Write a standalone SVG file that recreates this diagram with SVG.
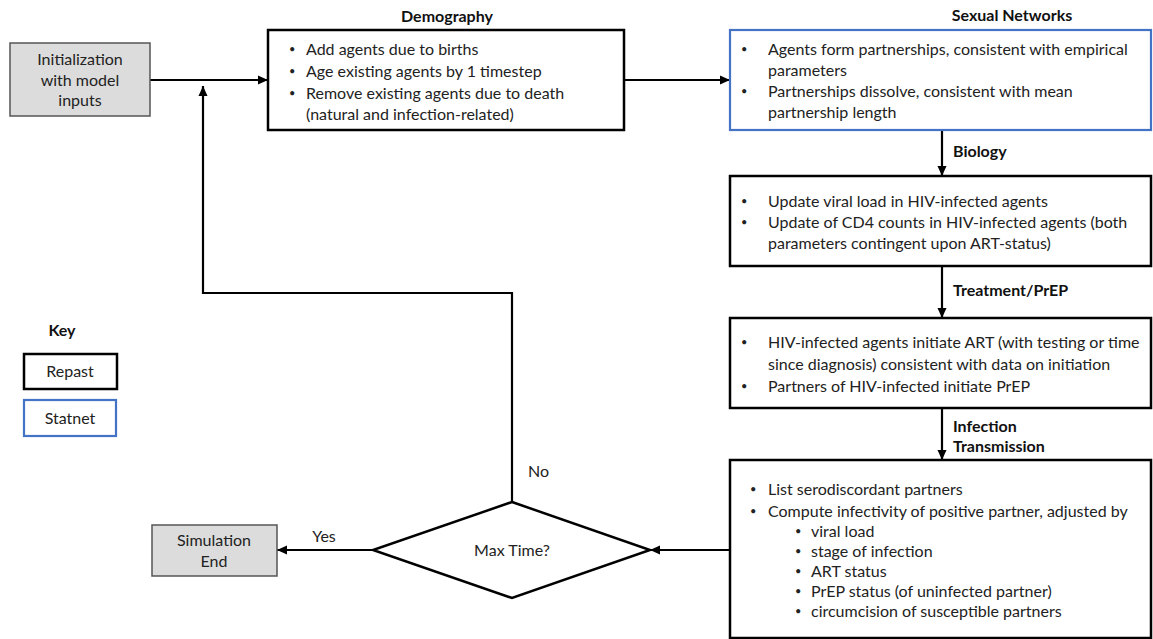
<svg xmlns="http://www.w3.org/2000/svg" width="1153" height="639" viewBox="0 0 1153 639">
<style>
text{font-family:Lato,"Liberation Sans",sans-serif;font-size:16px;fill:#222}
.b{font-weight:bold;fill:#111}
.c{text-anchor:middle}
.d{font-size:11px}
.box{fill:#fff;stroke:#000;stroke-width:2.5}
.blue{fill:#fff;stroke:#4472c4;stroke-width:2.2}
.grey{fill:#dcdcdc;stroke:#555;stroke-width:1.5}
.con{fill:none;stroke:#000;stroke-width:2.2}
</style>
<defs>
<marker id="ah" markerUnits="userSpaceOnUse" viewBox="0 0 10 10" refX="10" refY="5" markerWidth="10" markerHeight="10" orient="auto">
<path d="M0,0.5 L10,5 L0,9.5 Z" fill="#000"/>
</marker>
</defs>
<g id="connectors">
<line class="con" x1="150" y1="80" x2="268" y2="80" marker-end="url(#ah)"/>
<polyline class="con" points="512,502 512,293 203,293 203,86" marker-end="url(#ah)"/>
<line class="con" x1="624" y1="80" x2="730" y2="80" marker-end="url(#ah)"/>
<line class="con" x1="942" y1="130" x2="942" y2="176" marker-end="url(#ah)"/>
<line class="con" x1="942" y1="266" x2="942" y2="318" marker-end="url(#ah)"/>
<line class="con" x1="942" y1="408" x2="942" y2="460" marker-end="url(#ah)"/>
<line class="con" x1="730" y1="550" x2="650" y2="550" marker-end="url(#ah)"/>
<line class="con" x1="373" y1="550" x2="277" y2="550" marker-end="url(#ah)"/>
<text x="953" y="157" class="b">Biology</text>
<text x="953" y="296" class="b">Treatment/PrEP</text>
<text x="953" y="432" class="b">Infection</text>
<text x="953" y="452" class="b">Transmission</text>
<text x="528" y="477">No</text>
<text x="324" y="542" class="c">Yes</text>
</g>
<g id="init">
<rect class="grey" x="10" y="43" width="140" height="73"/>
<text x="80" y="65" class="c">Initialization</text>
<text x="80" y="86" class="c">with model</text>
<text x="80" y="106" class="c">inputs</text>
</g>
<g id="demography">
<text x="447" y="22" class="b c">Demography</text>
<rect class="box" x="268" y="30" width="356" height="100"/>
<text x="289" y="53" class="d">•</text><text x="306" y="55">Add agents due to births</text>
<text x="289" y="75" class="d">•</text><text x="306" y="77">Age existing agents by 1 timestep</text>
<text x="289" y="97" class="d">•</text><text x="306" y="99">Remove existing agents due to death</text>
<text x="306" y="120">(natural and infection-related)</text>
</g>
<g id="sexual-networks">
<text x="1012" y="21" class="b c">Sexual Networks</text>
<rect class="blue" x="730" y="30" width="421" height="100"/>
<text x="741" y="53" class="d">•</text><text x="768" y="55">Agents form partnerships, consistent with empirical</text>
<text x="768" y="76">parameters</text>
<text x="741" y="95" class="d">•</text><text x="768" y="97">Partnerships dissolve, consistent with mean</text>
<text x="768" y="118">partnership length</text>
</g>
<g id="biology">
<rect class="box" x="730" y="176" width="421" height="90"/>
<text x="741" y="205" class="d">•</text><text x="768" y="207">Update viral load in HIV-infected agents</text>
<text x="741" y="226" class="d">•</text><text x="768" y="228">Update of CD4 counts in HIV-infected agents (both</text>
<text x="768" y="249">parameters contingent upon ART-status)</text>
</g>
<g id="treatment">
<rect class="box" x="730" y="318" width="421" height="90"/>
<text x="741" y="346" class="d">•</text><text x="768" y="348">HIV-infected agents initiate ART (with testing or time</text>
<text x="768" y="370">since diagnosis) consistent with data on initiation</text>
<text x="741" y="390" class="d">•</text><text x="768" y="392">Partners of HIV-infected initiate PrEP</text>
</g>
<g id="infection">
<rect class="box" x="730" y="460" width="421" height="178"/>
<text x="750" y="493" class="d">•</text><text x="768" y="495">List serodiscordant partners</text>
<text x="750" y="515" class="d">•</text><text x="768" y="517">Compute infectivity of positive partner, adjusted by</text>
<text x="795" y="535" class="d">•</text><text x="811" y="537">viral load</text>
<text x="795" y="555" class="d">•</text><text x="811" y="557">stage of infection</text>
<text x="795" y="575" class="d">•</text><text x="811" y="577">ART status</text>
<text x="795" y="595" class="d">•</text><text x="811" y="597">PrEP status (of uninfected partner)</text>
<text x="795" y="615" class="d">•</text><text x="811" y="617">circumcision of susceptible partners</text>
</g>
<g id="decision">
<polygon points="512,502 650,550 512,598 373,550" fill="#fff" stroke="#000" stroke-width="2.5"/>
<text x="512" y="556" class="c">Max Time?</text>
</g>
<g id="sim-end">
<rect class="grey" x="152" y="525" width="125" height="51"/>
<text x="214" y="546" class="c">Simulation</text>
<text x="214" y="567" class="c">End</text>
</g>
<g id="key">
<text x="62" y="336" class="b c">Key</text>
<rect class="box" x="24" y="354" width="93" height="35"/>
<text x="70" y="377" class="c">Repast</text>
<rect class="blue" x="24" y="400" width="92" height="36"/>
<text x="70" y="424" class="c">Statnet</text>
</g>
</svg>
